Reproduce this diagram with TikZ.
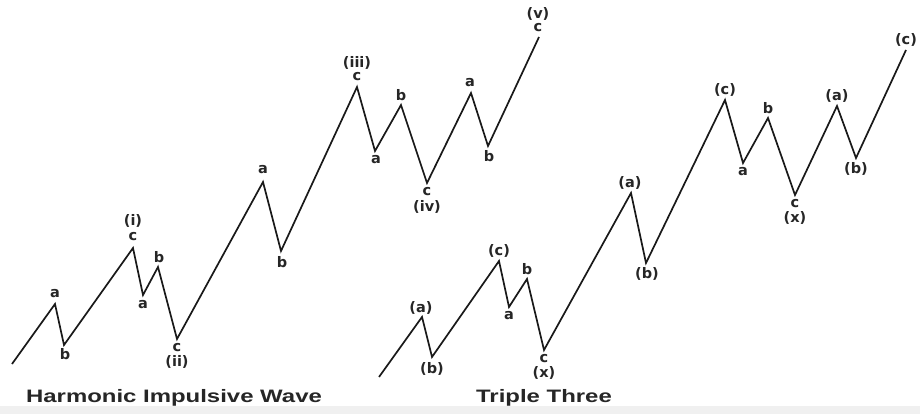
\documentclass[tikz,border=0pt]{standalone}
\usepackage{fontspec}
\setmainfont{Liberation Sans}
\newfontfamily\lblfont{DejaVu Sans}
\begin{document}
\begin{tikzpicture}[x=1pt,y=-1pt,
  wave/.style={line width=1.7pt,black!90,line join=miter},
  lbl/.style={inner sep=0pt,anchor=center,text=black!85,font=\lblfont\fontsize{14.5}{14.5}\selectfont\bfseries},
  ttl/.style={inner sep=0pt,anchor=center,text=black!85,font=\fontsize{18}{18}\selectfont\bfseries}]
\fill[white] (0,0) rectangle (920,414);
\fill[black!6] (0,406) rectangle (920,414);
\useasboundingbox (0,0) rectangle (920,414);
% left wave points
\coordinate (L0) at (12,364);
\coordinate (L1) at (55,304);
\coordinate (L2) at (64,345);
\coordinate (L3) at (133,248);
\coordinate (L4) at (143,295);
\coordinate (L5) at (158,267);
\coordinate (L6) at (177,339);
\coordinate (L7) at (263,182);
\coordinate (L8) at (281,251);
\coordinate (L9) at (357,87);
\coordinate (L10) at (375,151);
\coordinate (L11) at (401,105);
\coordinate (L12) at (427,183);
\coordinate (L13) at (471,93);
\coordinate (L14) at (488,146);
\coordinate (L15) at (539,37);
\draw[wave] (L0) -- (L1) -- (L2) -- (L3) -- (L4) -- (L5) -- (L6) -- (L7) -- (L8) -- (L9) -- (L10) -- (L11) -- (L12) -- (L13) -- (L14) -- (L15);
% right wave points
\coordinate (R0) at (379,377);
\coordinate (R1) at (422,317);
\coordinate (R2) at (432,357);
\coordinate (R3) at (499,261);
\coordinate (R4) at (509,307);
\coordinate (R5) at (527,279);
\coordinate (R6) at (544,350);
\coordinate (R7) at (631,193);
\coordinate (R8) at (646,263);
\coordinate (R9) at (725,100);
\coordinate (R10) at (743,163);
\coordinate (R11) at (768,118);
\coordinate (R12) at (795,195);
\coordinate (R13) at (837,106);
\coordinate (R14) at (856,158);
\coordinate (R15) at (906,50);
\draw[wave] (R0) -- (R1) -- (R2) -- (R3) -- (R4) -- (R5) -- (R6) -- (R7) -- (R8) -- (R9) -- (R10) -- (R11) -- (R12) -- (R13) -- (R14) -- (R15);
% left labels
\node[lbl] (la1) at (55,294) {a};
\node[lbl] (lb1) at (65,354) {b};
\node[lbl] (li) at (133,221) {(i)};
\node[lbl] (lc1) at (133,237) {c};
\node[lbl] (la2) at (143,305) {a};
\node[lbl] (lb2) at (159,257) {b};
\node[lbl] (lc2) at (177,348) {c};
\node[lbl] (lii) at (177,362) {(ii)};
\node[lbl] (la3) at (263,170) {a};
\node[lbl] (lb3) at (282,262) {b};
\node[lbl] (liii) at (357,63) {(iii)};
\node[lbl] (lc3) at (357,77) {c};
\node[lbl] (la4) at (376,160) {a};
\node[lbl] (lb4) at (401,95) {b};
\node[lbl] (lc4) at (427,192) {c};
\node[lbl] (liv) at (427,207) {(iv)};
\node[lbl] (la5) at (470,83) {a};
\node[lbl] (lb5) at (489,156) {b};
\node[lbl] (lv) at (538,14) {(v)};
\node[lbl] (lc5) at (538,28) {c};
% right labels
\node[lbl] (ra1) at (421,308) {(a)};
\node[lbl] (rb1) at (432,369) {(b)};
\node[lbl] (rc1) at (499,251) {(c)};
\node[lbl] (ra2) at (509,316) {a};
\node[lbl] (rb2) at (527,269) {b};
\node[lbl] (rc2) at (544,359) {c};
\node[lbl] (rx1) at (544,373) {(x)};
\node[lbl] (ra3) at (630,183) {(a)};
\node[lbl] (rb3) at (647,274) {(b)};
\node[lbl] (rc3) at (725,90) {(c)};
\node[lbl] (ra4) at (743,172) {a};
\node[lbl] (rb4) at (768,108) {b};
\node[lbl] (rc4) at (795,204) {c};
\node[lbl] (rx2) at (795,218) {(x)};
\node[lbl] (ra5) at (837,96) {(a)};
\node[lbl] (rb5) at (856,169) {(b)};
\node[lbl] (rc5) at (906,40) {(c)};
% titles
\node[ttl] (t1) at (174,398) {\scalebox{1.33}[1]{Harmonic Impulsive Wave}};
\node[ttl] (t2) at (544,398) {\scalebox{1.33}[1]{Triple Three}};
\end{tikzpicture}
\end{document}
